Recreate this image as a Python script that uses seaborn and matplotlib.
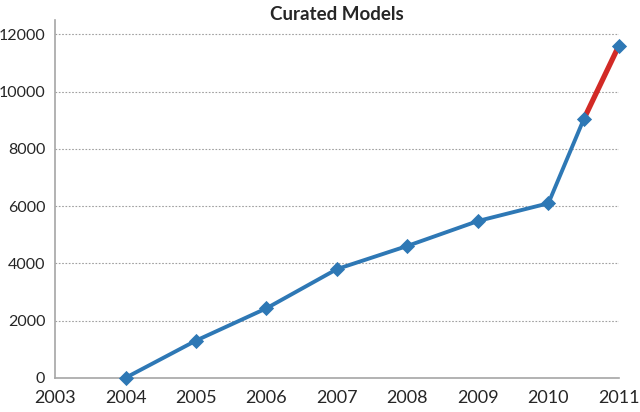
import matplotlib
matplotlib.use('Agg')
import matplotlib.pyplot as plt
import seaborn as sns
import pandas as pd

years = [2004, 2005, 2006, 2007, 2008, 2009, 2010, 2010.5, 2011]
models = [0, 1300, 2430, 3800, 4610, 5480, 6100, 9030, 11610]
x_ticks = [2003, 2004, 2005, 2006, 2007, 2008, 2009, 2010, 2011]
y_ticks = [0, 2000, 4000, 6000, 8000, 10000, 12000]

blue = '#2e78b5'
red = '#d22a26'

sns.set_style('white')
plt.rcParams['font.family'] = ['Lato', 'DejaVu Sans']

df = pd.DataFrame({'year': years, 'models': models})
solid = df.iloc[:-1]
proj = df.iloc[-2:]

fig = plt.figure(figsize=(6.4, 4.12), dpi=100)
ax = fig.add_axes([0.086, 0.083, 0.881, 0.868])

for y in y_ticks[1:]:
    ax.axhline(y, color='#a0a0a0', lw=0.8, ls=(0, (1.5, 1.5)), zorder=0)

sns.lineplot(data=solid, x='year', y='models', color=blue, lw=2.8, ax=ax,
             sort=False, zorder=2)
sns.lineplot(data=proj, x='year', y='models', color=red, lw=3.8, ax=ax,
             sort=False, zorder=3)
sns.scatterplot(data=df, x='year', y='models', marker='D', s=60, color=blue,
                edgecolor=blue, linewidth=0, ax=ax, zorder=4, clip_on=False)

ax.set_xlim(2003, 2011)
ax.set_ylim(0, 12500)
ax.set_xticks(x_ticks)
ax.set_yticks(y_ticks)
ax.set_xticklabels([str(t) for t in x_ticks], fontsize=13)
ax.set_yticklabels([str(t) for t in y_ticks], fontsize=11.5)
ax.set_xlabel('')
ax.set_ylabel('')
ax.set_title('Curated Models', fontsize=13.5, fontweight='bold', pad=0, y=1.0)

for side in ['top', 'right']:
    ax.spines[side].set_visible(False)
for side in ['left', 'bottom']:
    ax.spines[side].set_color('#a6a6a6')
    ax.spines[side].set_linewidth(1.2)
ax.tick_params(axis='x', direction='out', length=6, color='#a6a6a6', width=1.2, pad=3)
ax.tick_params(axis='y', direction='out', length=5, color='#a6a6a6', width=1.2, pad=2)

fig.savefig('out.png', dpi=100)
